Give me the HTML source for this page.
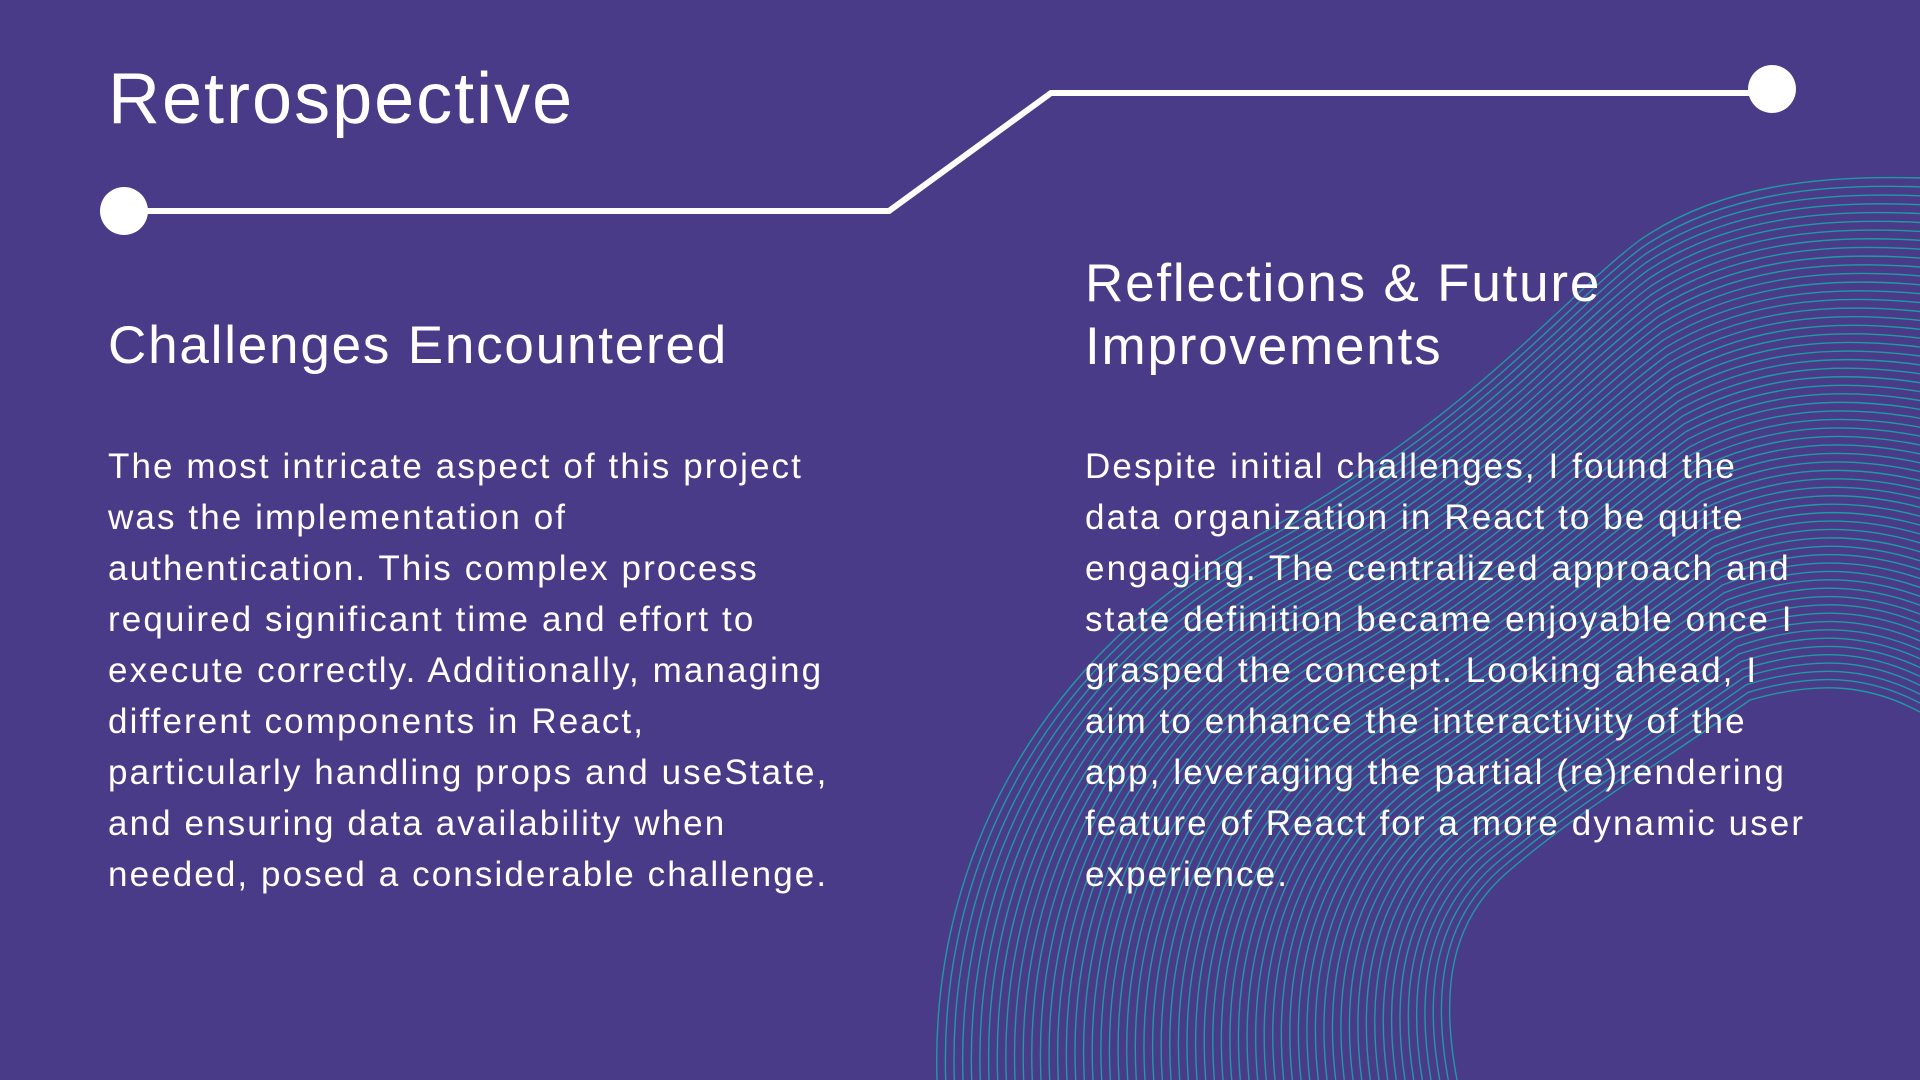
<!DOCTYPE html>
<html><head><meta charset="utf-8"><style>
html,body{margin:0;padding:0}
body{width:1920px;height:1080px;background:#4a3b88;position:relative;overflow:hidden;font-family:"Liberation Sans",sans-serif;color:#fff}
.t{position:absolute;white-space:nowrap}
#title{left:108px;top:58px;font-size:72px;letter-spacing:2px}
.h{font-size:53px;line-height:63px;letter-spacing:1.8px}
.b{font-size:35px;line-height:51px;letter-spacing:2.1px}
</style></head><body>
<svg id="w" width="1920" height="1080" style="position:absolute;left:0;top:0"></svg>
<svg width="1920" height="1080" style="position:absolute;left:0;top:0">
<polyline points="124,211 889,211 1051,93 1772,93" fill="none" stroke="#fff" stroke-width="6"/>
<circle cx="124" cy="211" r="24" fill="#fff"/>
<circle cx="1772" cy="89" r="24" fill="#fff"/>
</svg>
<div class="t" id="title">Retrospective</div>
<div class="t h" style="left:108px;top:314px">Challenges Encountered</div>
<div class="t h" style="left:1085px;top:252px">Reflections &amp; Future<br>Improvements</div>
<div class="t b" style="left:108px;top:441px">The most intricate aspect of this project<br>was the implementation of<br>authentication. This complex process<br>required significant time and effort to<br>execute correctly. Additionally, managing<br>different components in React,<br>particularly handling props and useState,<br>and ensuring data availability when<br>needed, posed a considerable challenge.</div>
<div class="t b" style="left:1085px;top:441px">Despite initial challenges, I found the<br>data organization in React to be quite<br>engaging. The centralized approach and<br>state definition became enjoyable once I<br>grasped the concept. Looking ahead, I<br>aim to enhance the interactivity of the<br>app, leveraging the partial (re)rendering<br>feature of React for a more dynamic user<br>experience.</div>
<script>
var O=[937,1080,930,850,1050,650,1250,540,1470,420,1560,300,1640,240,1720,185,1820,175,1920,178];
var I=[1457,1080,1440,990,1450,920,1510,870,1580,810,1650,770,1750,700,1820,680,1870,685,1920,712];
var s='',N=60;
for(var k=0;k<=N;k++){var t=k/N,p=[];for(var i=0;i<O.length;i++)p.push((O[i]*(1-t)+I[i]*t).toFixed(1));
s+='<path d="M'+p[0]+','+p[1]+' C'+p.slice(2,8).join(' ')+' C'+p.slice(8,14).join(' ')+' C'+p.slice(14,20).join(' ')+'" fill="none" stroke="#1e9aa6" stroke-width="1.4"/>';}
document.getElementById('w').innerHTML=s;
</script>
</body></html>
